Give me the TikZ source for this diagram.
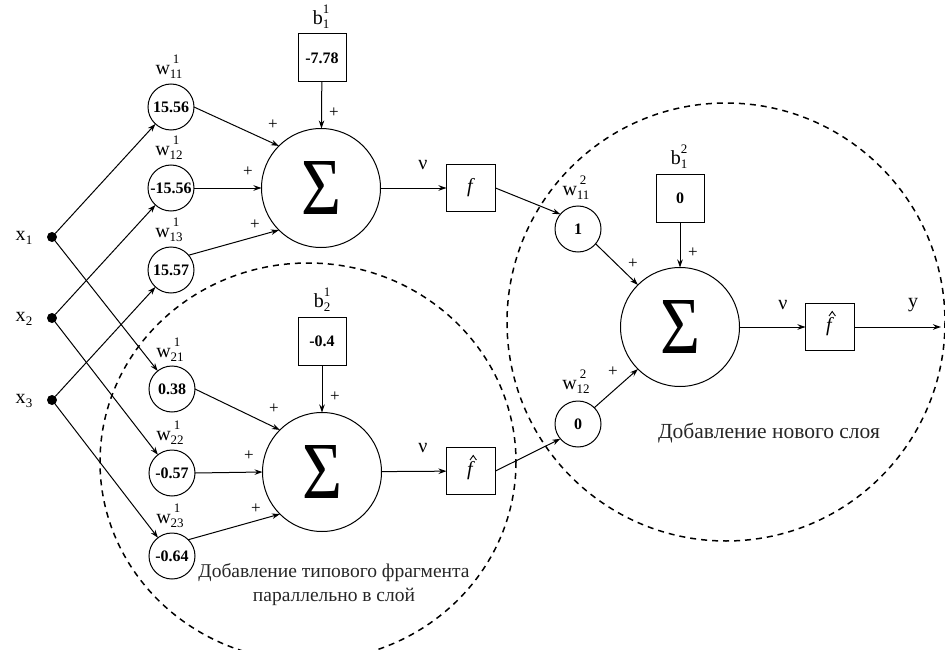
\documentclass[tikz,border=0pt]{standalone}
\usepackage{fontspec}
\usepackage{graphicx}
\setmainfont{Liberation Serif}
\usetikzlibrary{arrows.meta,calc}
\newcommand{\labf}{\fontsize{20}{22}\selectfont}
\newcommand{\numf}{\fontsize{16}{18}\selectfont\bfseries}
\newcommand{\scrf}{\fontsize{13}{14}\selectfont}
\newcommand{\plf}{\fontsize{17}{18}\selectfont}
\newcommand{\wlab}[3]{#1\raisebox{-4pt}{\scrf\ooalign{#3\cr\hidewidth\raisebox{15pt}{#2}\hidewidth\cr}}}
\newcommand{\xlab}[2]{#1\raisebox{-4pt}{\scrf #2}}
\newcommand{\bigsig}{\resizebox{40pt}{53pt}{Σ}}
\begin{document}
\begin{tikzpicture}[x=1pt,y=-1pt,
  every node/.style={inner sep=0pt, outer sep=0pt},
  wc/.style={draw, circle, minimum size=46pt, line width=1pt, font=\numf},
  sumc/.style={draw, circle, minimum size=119pt, line width=1pt},
  bx/.style={draw, minimum width=48pt, minimum height=48pt, line width=1pt, font=\numf},
  fb/.style={draw, minimum width=49pt, minimum height=47pt, line width=1pt, font=\labf},
  dotn/.style={circle, fill, minimum size=10pt},
  lab/.style={font=\labf},
  pl/.style={font=\plf},
  hatln/.style={line width=0.9pt},
  captxt/.style={text=black!85, align=center},
  arr/.style={-{Stealth[length=8pt,width=5.5pt]}, line width=1pt},
  dsh/.style={dash pattern=on 6pt off 5pt, line width=1.5pt}]
\useasboundingbox (0,0) rectangle (945,650);

% inputs
\node[dotn] (x1) at (52,237) {};
\node[dotn] (x2) at (52,318) {};
\node[dotn] (x3) at (52,400) {};
\node[lab] (lx1) at (24,238) {\xlab{x}{1}};
\node[lab] (lx2) at (24,319) {\xlab{x}{2}};
\node[lab] (lx3) at (24,401) {\xlab{x}{3}};

% first-layer weights
\node[wc] (w11) at (171,107) {15.56};
\node[wc] (w12) at (171,188) {-15.56};
\node[wc] (w13) at (171,270) {15.57};
\node[wc] (w21) at (172,389) {0.38};
\node[wc] (w22) at (172,473) {-0.57};
\node[wc] (w23) at (172,556) {-0.64};
\node[lab] (lw11) at (169,72) {\wlab{w}{1}{11}};
\node[lab] (lw12) at (169,153) {\wlab{w}{1}{12}};
\node[lab] (lw13) at (169,235) {\wlab{w}{1}{13}};
\node[lab] (lw21) at (170,355) {\wlab{w}{1}{21}};
\node[lab] (lw22) at (170,438) {\wlab{w}{1}{22}};
\node[lab] (lw23) at (170,521) {\wlab{w}{1}{23}};

% summators
\node[sumc] (s1) at (321,188) {\bigsig};
\node[sumc] (s2) at (322,472) {\bigsig};
\node[sumc] (s3) at (680,327) {\bigsig};

% biases
\node[bx] (b11) at (322,58) {-7.78};
\node[bx] (b21) at (322,341) {-0.4};
\node[bx] (b12) at (680,198) {0};
\node[lab] (lb11) at (321,20) {\wlab{b}{1}{1}};
\node[lab] (lb21) at (322,303) {\wlab{b}{1}{2}};
\node[lab] (lb12) at (679,160) {\wlab{b}{2}{1}};

% activation boxes
\node[fb] (f1) at (471,188) {\textit{f}};
\node[fb] (f2) at (471,471) {\textit{f}};
\node[fb] (f3) at (830,327) {\textit{f}};
\draw[hatln] ($(f2.center)+(-1,-11)$) -- ++(3.2,-4.5) -- ++(3.2,4.5);
\draw[hatln] ($(f3.center)+(-1,-11)$) -- ++(3.2,-4.5) -- ++(3.2,4.5);

% second-layer weights
\node[wc] (v11) at (578,229) {1};
\node[wc] (v12) at (578,424) {0};
\node[lab] (lv11) at (576,193) {\wlab{w}{2}{11}};
\node[lab] (lv12) at (576,387) {\wlab{w}{2}{12}};

\coordinate (out) at (941,327);

% connections inputs -> weights
\draw[arr] (x1) -- (w11);
\draw[arr] (x1) -- (w21);
\draw[arr] (x2) -- (w12);
\draw[arr] (x2) -- (w22);
\draw[arr] (x3) -- (w13);
\draw[arr] (x3) -- (w23);

% weights -> sums
\draw[arr] (w11.east) -- (s1.135);
\draw[arr] (w12.east) -- (s1.west);
\draw[arr] (w13.40) -- (s1.225);
\draw[arr] (w21.east) -- (s2.135);
\draw[arr] (w22.east) -- (s2.west);
\draw[arr] (w23.45) -- (s2.225);
\draw[arr] (b11) -- (s1);
\draw[arr] (b21) -- (s2);
\draw[arr] (b12) -- (s3);

% sums -> activations
\draw[arr] (s1) -- (f1);
\draw[arr] (s2) -- (f2);
\draw[arr] (s3) -- (f3);
\draw[arr] (f3) -- (out);
\draw[arr] (f1.east) -- (v11.140);
\draw[arr] (f2.east) -- (v12.220);
\draw[arr] (v11.-40) -- (s3.135);
\draw[arr] (v12.45) -- (s3.225);

% plus signs
\foreach \s/\n in {s1/a, s2/b} {
  \node[pl] (p1\n) at ($(\s)+(-48,-63)$) {+};
  \node[pl] (p2\n) at ($(\s)+(-73,-16)$) {+};
  \node[pl] (p3\n) at ($(\s)+(-66,37)$) {+};
  \node[pl] (p4\n) at ($(\s)+(13,-75)$) {+};
}
\node[pl] (p1c) at (633,264) {+};
\node[pl] (p2c) at (613,372) {+};
\node[pl] (p3c) at (693,253) {+};

% nu / y labels
\node[lab] (n1) at (423,165) {ν};
\node[lab] (n2) at (423,448) {ν};
\node[lab] (n3) at (783,305) {ν};
\node[lab] (ly) at (913,305) {y};

% dashed regions
\draw[dsh] (726,322) circle[radius=219];
\draw[dsh] (308,462) ellipse[x radius=208, y radius=199];

% captions
\node[captxt, font=\fontsize{21.5}{24}\selectfont] (t1) at (769,433) {Добавление нового слоя};
\node[captxt, font=\fontsize{19.5}{24}\selectfont] (t2) at (334,585) {Добавление типового фрагмента\\параллельно в слой};
\end{tikzpicture}
\end{document}
